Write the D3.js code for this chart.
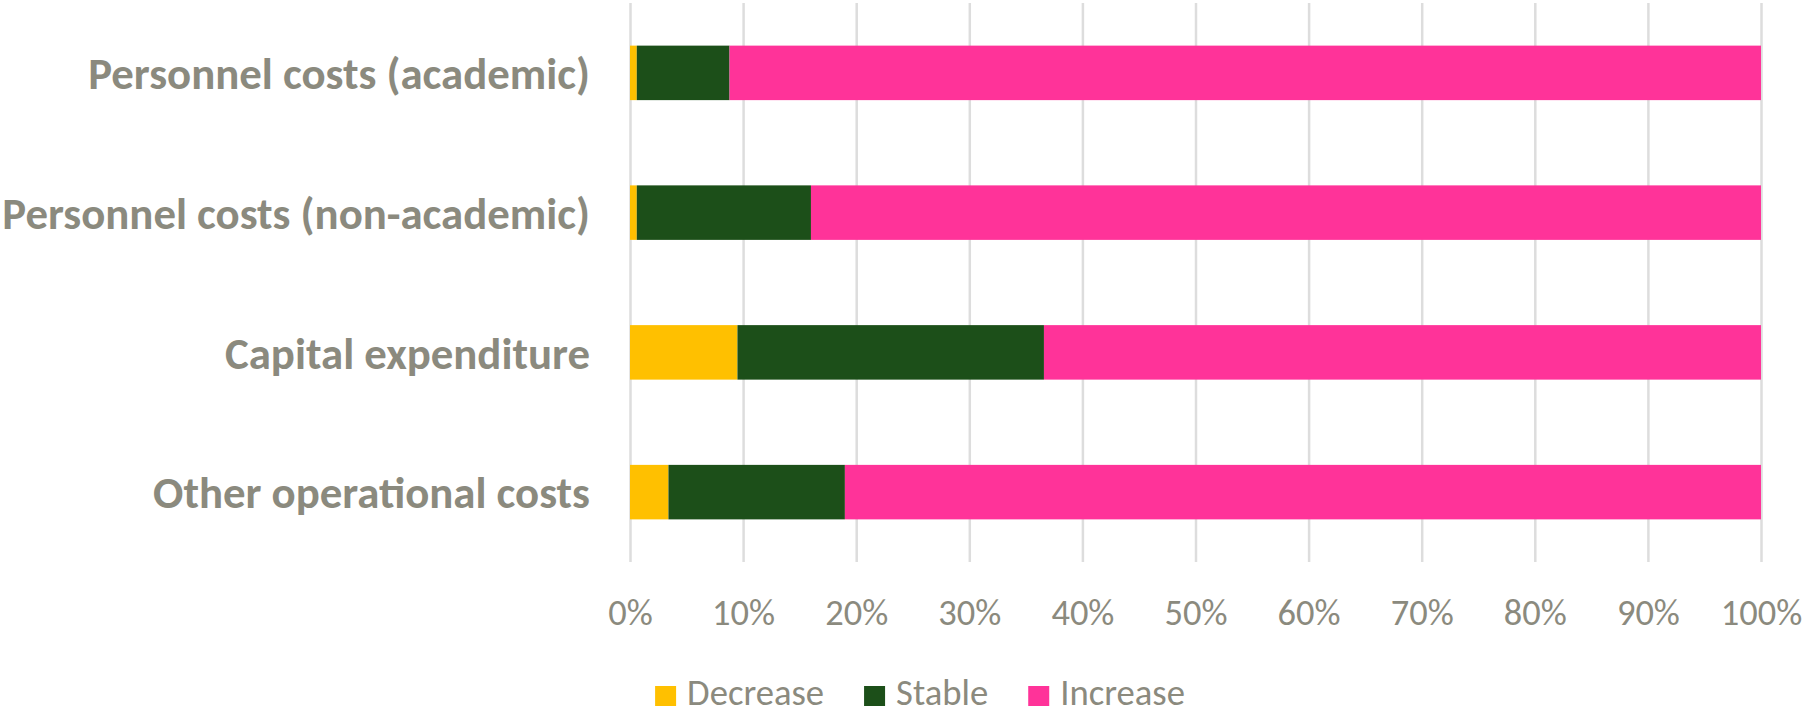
<!DOCTYPE html>
<html>
<head>
<meta charset="utf-8">
<script src="https://cdn.jsdelivr.net/npm/d3@7"></script>
<style>
  html, body { margin: 0; padding: 0; background: #fff; }
  svg { display: block; }
</style>
</head>
<body>
<svg id="chart" width="1807" height="714"></svg>
<script>
// ---- Data ----
const categories = [
  "Personnel costs (academic)",
  "Personnel costs (non-academic)",
  "Capital expenditure",
  "Other operational costs"
];
const seriesNames = ["Decrease", "Stable", "Increase"];
const decreaseValues = [0.6, 0.6, 9.5, 3.4];
const stableValues = [8.2, 15.4, 27.1, 15.6];
const increaseValues = [91.2, 84.0, 63.4, 81.0];
const tickValues = [0, 10, 20, 30, 40, 50, 60, 70, 80, 90, 100];
const tickLabels = ["0%", "10%", "20%", "30%", "40%", "50%", "60%", "70%", "80%", "90%", "100%"];

const colors = { Decrease: "#FFC000", Stable: "#1C4F19", Increase: "#FF3399" };
const textColor = "#8B8A7E";
const fontFamily = "Carlito, Lato, 'Open Sans', sans-serif";

// ---- Layout ----
const svg = d3.select("#chart");
const plot = { left: 630, right: 1761, top: 3, bottom: 562 };

const x = d3.scaleLinear().domain([0, 100]).range([plot.left, plot.right]);
const y = d3.scaleBand().domain(categories).range([plot.top, plot.bottom]).paddingInner(0.61).paddingOuter(0.305);

const table = categories.map((c, i) => ({
  category: c,
  Decrease: decreaseValues[i],
  Stable: stableValues[i],
  Increase: increaseValues[i]
}));
const stacked = d3.stack().keys(seriesNames)(table);

function fitSize(text, weight, targetWidth) {
  const t = svg.append("text").attr("font-family", fontFamily).attr("font-weight", weight)
    .attr("font-size", 100).text(text);
  const w = t.node().getComputedTextLength();
  t.remove();
  return 100 * targetWidth / w;
}

// gridlines
const gridAxis = d3.axisBottom(x).tickValues(tickValues).tickSize(-(plot.bottom - plot.top)).tickFormat("");
const gG = svg.append("g").attr("transform", `translate(0,${plot.bottom})`).call(gridAxis);
gG.select(".domain").remove();
gG.selectAll(".tick line").attr("stroke", "#DDDDDD").attr("stroke-width", 2.5);

// bars
svg.append("g").selectAll("g").data(stacked).join("g")
  .attr("fill", d => colors[d.key])
  .selectAll("rect").data(d => d).join("rect")
  .attr("x", d => x(d[0]))
  .attr("width", d => x(d[1]) - x(d[0]))
  .attr("y", d => y(d.data.category))
  .attr("height", y.bandwidth());

// x tick labels
const tickSize = fitSize("10%", 400, 63);
const labelAxis = d3.axisBottom(x).tickValues(tickValues).tickSize(0)
  .tickFormat((d, i) => tickLabels[i]);
const lG = svg.append("g").attr("transform", `translate(0,${plot.bottom})`).call(labelAxis);
lG.select(".domain").remove();
lG.selectAll(".tick text")
  .attr("font-family", fontFamily).attr("font-size", tickSize)
  .attr("fill", textColor).attr("y", 625 - plot.bottom).attr("dy", null);

// category labels
const catSize = fitSize(categories[0], 700, 502);
const yAxis = d3.axisLeft(y).tickSize(0).tickPadding(0);
const yG = svg.append("g").attr("transform", `translate(590,0)`).call(yAxis);
yG.select(".domain").remove();
yG.selectAll(".tick text")
  .attr("font-family", fontFamily).attr("font-weight", 700).attr("font-size", catSize)
  .attr("fill", textColor).attr("x", 0).attr("dy", null).attr("y", catSize * 0.36);

// legend
const legSize = fitSize("Decrease", 400, 137);
const legend = svg.append("g");
let cx = 0;
seriesNames.forEach((name) => {
  const g = legend.append("g");
  g.append("rect").attr("x", cx).attr("y", 686).attr("width", 21).attr("height", 20).attr("fill", colors[name]);
  const t = g.append("text").attr("x", cx + 32).attr("y", 705)
    .attr("font-family", fontFamily).attr("font-size", legSize).attr("fill", textColor).text(name);
  cx += 32 + t.node().getComputedTextLength() + 40;
});
const legW = cx - 40;
legend.attr("transform", `translate(${920 - legW / 2},0)`);
</script>
</body>
</html>
